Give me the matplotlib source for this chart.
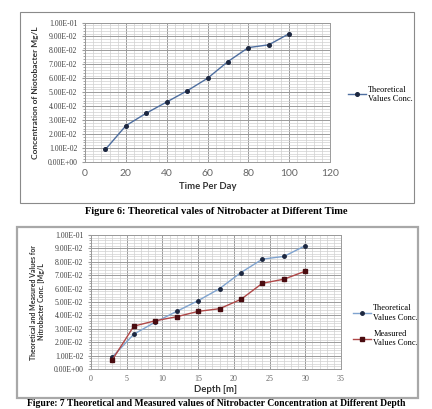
import matplotlib
matplotlib.use("Agg")
import matplotlib.pyplot as plt
import matplotlib.ticker as mticker
from matplotlib.patches import Rectangle

# --- Data ---
time_days = [10, 20, 30, 40, 50, 60, 70, 80, 90, 100]
theory_time = [0.009, 0.026, 0.035, 0.043, 0.051, 0.060, 0.072, 0.082, 0.084, 0.092]

depth_m = [3, 6, 9, 12, 15, 18, 21, 24, 27, 30]
theory_depth = [0.009, 0.026, 0.035, 0.043, 0.051, 0.060, 0.072, 0.082, 0.084, 0.092]
measured_depth = [0.007, 0.032, 0.036, 0.039, 0.043, 0.045, 0.052, 0.064, 0.067, 0.073]

legend_labels = ["Theoretical\nValues Conc.", "Measured\nValues Conc."]

W, H = 432, 409
fig = plt.figure(figsize=(W / 100, H / 100), dpi=100)
fig.patch.set_facecolor("white")

SANS = ["Lato", "DejaVu Sans"]
SERIF = ["Liberation Serif", "DejaVu Serif"]


def px_box(x0, y0, x1, y1):
    # pixel box (top-left origin) -> figure fraction rect
    return [x0 / W, 1 - y1 / H, (x1 - x0) / W, (y1 - y0) / H]


def sci_fmt(v, pos):
    return f"{v:.2E}"


def style_axes(ax, xmax, xmajor, xminor):
    ax.set_xlim(0, xmax)
    ax.set_ylim(0, 0.1)
    ax.xaxis.set_major_locator(mticker.MultipleLocator(xmajor))
    ax.xaxis.set_minor_locator(mticker.MultipleLocator(xminor))
    ax.yaxis.set_major_locator(mticker.MultipleLocator(0.01))
    ax.yaxis.set_minor_locator(mticker.MultipleLocator(0.002))
    ax.yaxis.set_major_formatter(mticker.FuncFormatter(sci_fmt))
    ax.grid(True, which="major", color="#9a9a9a", linewidth=0.7)
    ax.grid(True, which="minor", color="#d0d0d0", linewidth=0.5)
    ax.set_axisbelow(True)
    for s in ax.spines.values():
        s.set_edgecolor("#9a9a9a")
        s.set_linewidth(0.7)
    ax.tick_params(axis="y", which="major", labelsize=5.6, length=2, colors="#9a9a9a",
                   labelcolor="#404040")
    ax.tick_params(axis="y", which="minor", length=1.5, colors="#9a9a9a")
    ax.tick_params(axis="x", which="both", length=0, labelsize=7.5, labelcolor="#666666", pad=5)
    for lab in ax.get_yticklabels():
        lab.set_family(SERIF)
    for lab in ax.get_xticklabels():
        lab.set_family(SANS)


# --- Frames around each chart ---
fig.add_artist(Rectangle((20 / W, 1 - 203 / H), 394 / W, 191 / H, transform=fig.transFigure,
                         fill=False, edgecolor="#8a8a8a", linewidth=0.8))
fig.add_artist(Rectangle((17 / W, 1 - 398 / H), 401 / W, 171 / H, transform=fig.transFigure,
                         fill=False, edgecolor="#a8a8a8", linewidth=1.6))

# --- Figure 6 ---
ax1 = fig.add_axes(px_box(85, 22.5, 330, 162))
style_axes(ax1, 120, 20, 4)
ax1.plot(time_days, theory_time, color="#4f6fa0", linewidth=1.0, marker="o",
         markersize=2.6, markerfacecolor="#1c2740", markeredgecolor="#1c2740",
         label=legend_labels[0])
ax1.set_xlabel("Time Per Day", fontsize=6.8, fontweight="bold", family=SANS,
               color="#333333", labelpad=3)
ax1.set_ylabel("Concentration of Niotobacter Mg/L", fontsize=6, fontweight="bold",
               family=SANS, color="#333333", labelpad=6)
ax1.legend(loc="upper left", bbox_to_anchor=(340 / W, 1 - 78 / H),
           bbox_transform=fig.transFigure, frameon=False, handlelength=2.2,
           prop={"family": SERIF, "size": 6}, labelspacing=0.3, handletextpad=0.3)

fig.text(0.5, 1 - 211 / H, "Figure 6: Theoretical vales of Nitrobacter at Different Time",
         ha="center", va="center", fontsize=7.5, fontweight="bold", family=SERIF)

# --- Figure 7 ---
ax2 = fig.add_axes(px_box(91, 235, 341, 369))
style_axes(ax2, 35, 5, 1)
ax2.plot(depth_m, theory_depth, color="#7fa3cf", linewidth=1.0, marker="o",
         markersize=2.5, markerfacecolor="#1c2740", markeredgecolor="#1c2740",
         label=legend_labels[0])
ax2.plot(depth_m, measured_depth, color="#b04848", linewidth=1.0, marker="s",
         markersize=3.3, markerfacecolor="#4a0c10", markeredgecolor="#4a0c10",
         label=legend_labels[1])
ax2.set_xlabel("Depth [m]", fontsize=6.8, fontweight="bold", family=SANS,
               color="#333333", labelpad=2)
ax2.set_ylabel("Theoretical and Measured Values for\nNitrobacter Conc. [Mg/L", fontsize=5,
               fontweight="bold", family=SANS, color="#333333", labelpad=6)
ax2.tick_params(axis="x", labelsize=5.8, pad=4)
for lab in ax2.get_xticklabels():
    lab.set_family(SERIF)
ax2.legend(loc="upper left", bbox_to_anchor=(345 / W, 1 - 297 / H),
           bbox_transform=fig.transFigure, frameon=False, handlelength=2.2,
           prop={"family": SERIF, "size": 6}, labelspacing=1.0, handletextpad=0.3)

fig.text(0.5, 1 - 403.5 / H,
         "Figure: 7 Theoretical and Measured values of Nitrobacter Concentration at Different Depth",
         ha="center", va="center", fontsize=6.9, fontweight="bold", family=SERIF)

fig.savefig("out.png", dpi=100)
